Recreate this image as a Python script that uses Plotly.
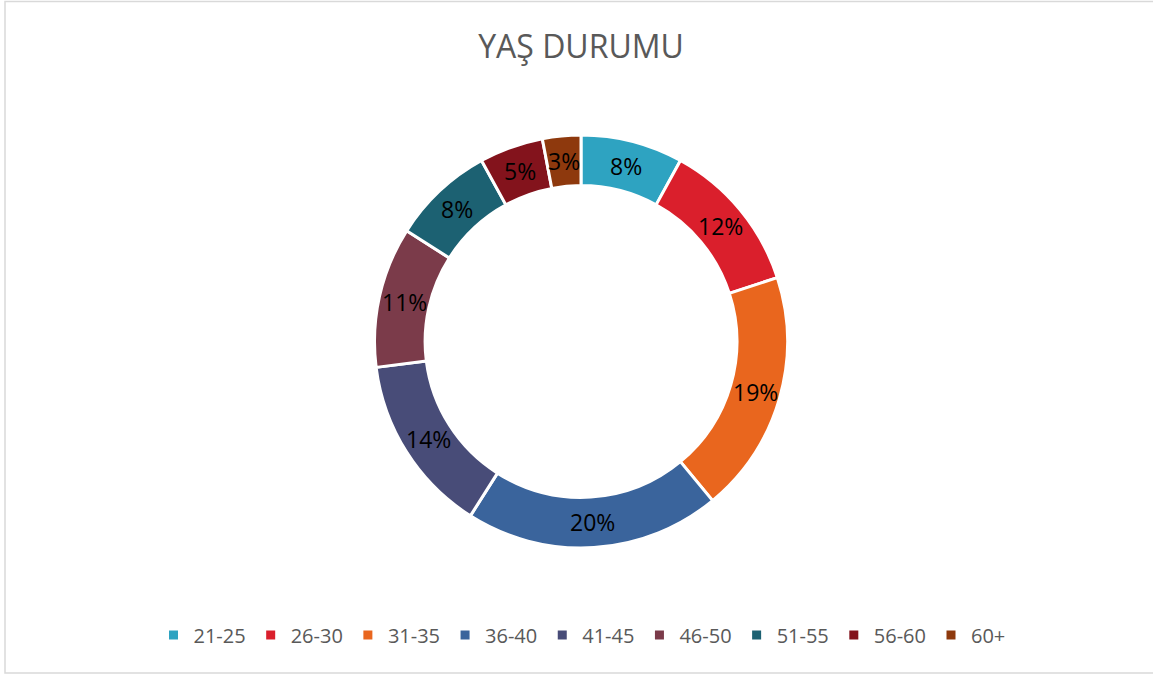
import math

import plotly.graph_objects as go

W, H = 1153, 675

age_groups = ["21-25", "26-30", "31-35", "36-40", "41-45", "46-50", "51-55", "56-60", "60+"]
shares = [8, 12, 19, 20, 14, 11, 8, 5, 3]
colors = ["#2EA3C1", "#DA1F2C", "#E9661E", "#3A649C", "#484C78",
          "#7B3B4A", "#1C6172", "#83131C", "#8E390D"]

HOLE = 0.755
dom_x = [9 / W, 1]
dom_y = [127 / H, 540 / H]

fig = go.Figure(
    go.Pie(
        labels=age_groups,
        values=shares,
        hole=HOLE,
        sort=False,
        direction="clockwise",
        rotation=0,
        marker=dict(colors=colors, line=dict(color="white", width=3)),
        textinfo="none",
        domain=dict(x=dom_x, y=dom_y),
    )
)

# percentage labels at the middle of each ring segment (Excel style)
total = sum(shares)
cx = (dom_x[0] + dom_x[1]) / 2
cy = (dom_y[0] + dom_y[1]) / 2
r_out = min((dom_x[1] - dom_x[0]) * W, (dom_y[1] - dom_y[0]) * H) / 2
r_lab = r_out * (1 + HOLE) / 2
cum = 0
for v in shares:
    ang = 2 * math.pi * (cum + v / 2) / total
    cum += v
    fig.add_annotation(
        x=cx + r_lab * math.sin(ang) / W,
        y=cy + r_lab * math.cos(ang) / H,
        xref="paper",
        yref="paper",
        xanchor="center",
        yanchor="middle",
        text=f"{round(100 * v / total)}%",
        showarrow=False,
        font=dict(family="Open Sans", size=23, color="black"),
    )

fig.update_layout(
    width=W,
    height=H,
    margin=dict(l=0, r=0, t=0, b=0),
    paper_bgcolor="white",
    plot_bgcolor="white",
    title=dict(
        text="YAŞ DURUMU",
        x=581 / W,
        xanchor="center",
        y=1 - 47 / H,
        yanchor="middle",
        font=dict(family="Open Sans", size=32, color="#595959"),
    ),
    legend=dict(
        orientation="h",
        x=582 / W,
        xanchor="center",
        y=40 / H,
        yanchor="middle",
        font=dict(family="Open Sans", size=20, color="#595959"),
        itemclick=False,
    ),
    shapes=[
        dict(
            type="rect",
            xref="paper",
            yref="paper",
            x0=5 / W,
            x1=1.01,
            y0=1 - 673 / H,
            y1=1 - 1.5 / H,
            line=dict(color="#D9D9D9", width=1.5),
            layer="below",
        )
    ],
)

fig.write_html(
    "out.html",
    config={"displayModeBar": False},
    post_script="document.body.style.margin='0';document.body.style.overflow='hidden';",
)
